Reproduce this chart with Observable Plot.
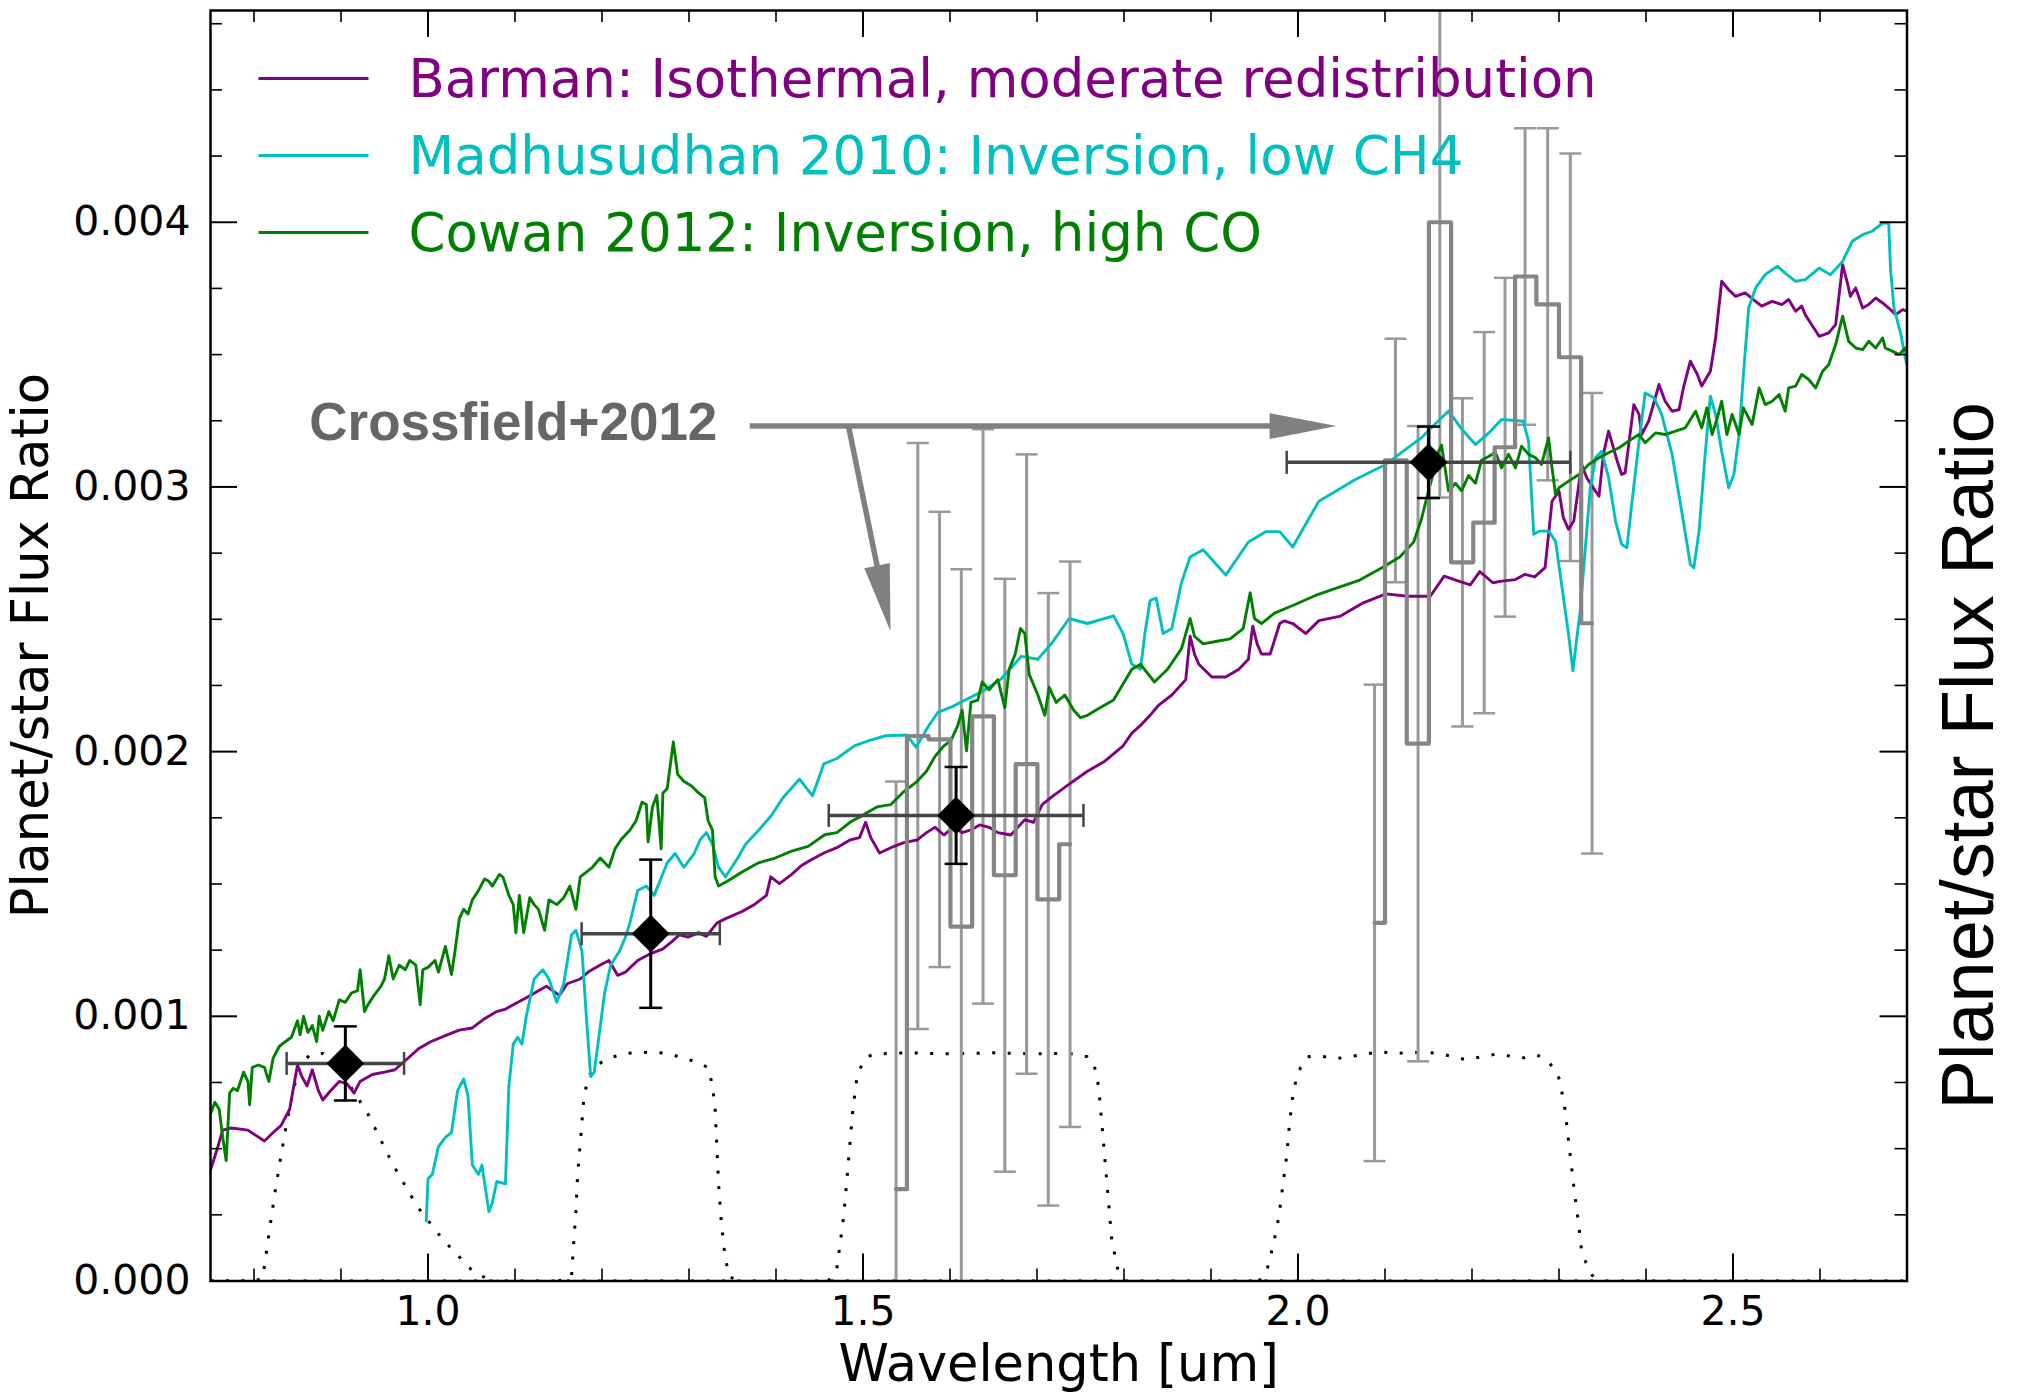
<!DOCTYPE html>
<html>
<head>
<meta charset="utf-8">
<script src="https://cdn.jsdelivr.net/npm/d3@7"></script>
<script src="https://cdn.jsdelivr.net/npm/@observablehq/plot@0.6"></script>
<style>
  html, body { margin: 0; padding: 0; background: white; }
  #chart svg { display: block; }
</style>
</head>
<body>
<div id="chart"></div>
<script>
// ---------- DATA (flux values in units of 1e-3) ----------
const barman = [[0.750,0.420],[0.757,0.491],[0.764,0.570],[0.774,0.578],[0.793,0.570],[0.812,0.529],[0.822,0.561],[0.831,0.587],[0.841,0.649],[0.850,0.816],[0.855,0.772],[0.861,0.737],[0.867,0.798],[0.874,0.719],[0.879,0.684],[0.888,0.719],[0.898,0.754],[0.907,0.745],[0.915,0.710],[0.922,0.754],[0.936,0.780],[0.950,0.789],[0.962,0.798],[0.974,0.833],[0.989,0.877],[1.003,0.904],[1.022,0.930],[1.036,0.948],[1.051,0.956],[1.065,0.991],[1.079,1.018],[1.089,1.027],[1.098,1.044],[1.113,1.070],[1.127,1.097],[1.136,1.114],[1.151,1.079],[1.160,1.123],[1.175,1.141],[1.184,1.167],[1.198,1.194],[1.208,1.211],[1.218,1.155],[1.227,1.167],[1.241,1.211],[1.256,1.237],[1.270,1.255],[1.280,1.281],[1.289,1.308],[1.299,1.299],[1.311,1.316],[1.320,1.302],[1.332,1.352],[1.342,1.369],[1.361,1.396],[1.375,1.422],[1.389,1.457],[1.394,1.527],[1.404,1.501],[1.418,1.536],[1.429,1.569],[1.439,1.589],[1.455,1.617],[1.470,1.637],[1.485,1.666],[1.496,1.675],[1.503,1.733],[1.509,1.675],[1.519,1.617],[1.532,1.637],[1.547,1.656],[1.562,1.666],[1.573,1.694],[1.583,1.714],[1.593,1.685],[1.604,1.714],[1.614,1.694],[1.624,1.704],[1.634,1.723],[1.645,1.714],[1.655,1.694],[1.670,1.685],[1.686,1.743],[1.696,1.733],[1.706,1.800],[1.717,1.829],[1.737,1.877],[1.758,1.926],[1.778,1.964],[1.799,2.022],[1.809,2.070],[1.819,2.099],[1.830,2.137],[1.840,2.176],[1.855,2.214],[1.871,2.272],[1.876,2.436],[1.881,2.369],[1.886,2.330],[1.901,2.282],[1.917,2.282],[1.932,2.311],[1.943,2.349],[1.948,2.474],[1.953,2.407],[1.958,2.369],[1.968,2.369],[1.979,2.484],[1.984,2.494],[1.994,2.484],[2.009,2.446],[2.024,2.495],[2.049,2.512],[2.075,2.562],[2.101,2.596],[2.126,2.587],[2.152,2.587],[2.168,2.663],[2.183,2.646],[2.198,2.630],[2.209,2.680],[2.224,2.638],[2.234,2.644],[2.250,2.650],[2.261,2.670],[2.272,2.660],[2.284,2.695],[2.292,2.946],[2.300,2.984],[2.305,2.884],[2.311,2.840],[2.317,2.871],[2.326,3.085],[2.332,3.034],[2.342,2.984],[2.346,2.965],[2.351,3.123],[2.357,3.211],[2.367,3.097],[2.372,3.047],[2.376,3.053],[2.386,3.311],[2.392,3.274],[2.395,3.198],[2.403,3.248],[2.415,3.387],[2.422,3.324],[2.430,3.286],[2.438,3.292],[2.443,3.374],[2.451,3.475],[2.459,3.425],[2.464,3.381],[2.474,3.437],[2.480,3.563],[2.487,3.777],[2.495,3.745],[2.503,3.720],[2.514,3.733],[2.526,3.701],[2.533,3.683],[2.545,3.701],[2.556,3.689],[2.564,3.708],[2.572,3.664],[2.579,3.683],[2.583,3.651],[2.589,3.620],[2.599,3.569],[2.610,3.582],[2.618,3.613],[2.626,3.840],[2.631,3.777],[2.635,3.720],[2.641,3.752],[2.649,3.676],[2.656,3.689],[2.664,3.714],[2.672,3.695],[2.679,3.676],[2.687,3.651],[2.695,3.670],[2.700,3.664]];

const madhusudhan = [[0.998,0.227],[1.000,0.385],[1.005,0.403],[1.012,0.508],[1.020,0.543],[1.027,0.561],[1.034,0.719],[1.041,0.763],[1.046,0.701],[1.051,0.438],[1.058,0.403],[1.062,0.438],[1.070,0.262],[1.074,0.297],[1.079,0.376],[1.089,0.367],[1.093,0.737],[1.098,0.895],[1.103,0.921],[1.108,0.895],[1.113,1.000],[1.122,1.141],[1.132,1.176],[1.139,1.141],[1.148,1.053],[1.156,1.123],[1.165,1.308],[1.170,1.325],[1.177,1.246],[1.182,1.000],[1.187,0.772],[1.191,0.789],[1.196,0.912],[1.203,1.088],[1.210,1.194],[1.220,1.246],[1.227,1.299],[1.232,1.352],[1.241,1.475],[1.251,1.492],[1.260,1.457],[1.275,1.580],[1.284,1.615],[1.294,1.563],[1.306,1.615],[1.313,1.668],[1.320,1.694],[1.327,1.650],[1.334,1.563],[1.342,1.527],[1.356,1.598],[1.365,1.650],[1.380,1.703],[1.394,1.756],[1.408,1.826],[1.427,1.896],[1.442,1.833],[1.455,1.954],[1.470,1.974],[1.490,2.022],[1.506,2.041],[1.526,2.060],[1.550,2.063],[1.561,2.017],[1.575,2.095],[1.586,2.148],[1.602,2.169],[1.621,2.201],[1.640,2.233],[1.659,2.275],[1.682,2.360],[1.701,2.349],[1.717,2.410],[1.737,2.503],[1.758,2.484],[1.788,2.513],[1.799,2.446],[1.809,2.330],[1.819,2.311],[1.824,2.446],[1.830,2.571],[1.837,2.580],[1.845,2.446],[1.855,2.465],[1.866,2.638],[1.876,2.735],[1.891,2.763],[1.917,2.667],[1.943,2.792],[1.963,2.831],[1.979,2.831],[1.994,2.773],[2.009,2.860],[2.024,2.946],[2.039,2.975],[2.065,3.026],[2.085,3.059],[2.101,3.085],[2.121,3.135],[2.142,3.186],[2.157,3.236],[2.173,3.287],[2.188,3.219],[2.204,3.160],[2.219,3.203],[2.234,3.255],[2.259,3.248],[2.265,3.173],[2.271,2.821],[2.277,2.833],[2.288,2.833],[2.296,2.795],[2.303,2.632],[2.311,2.443],[2.316,2.305],[2.321,2.443],[2.324,2.519],[2.330,2.758],[2.336,2.997],[2.342,3.110],[2.349,3.135],[2.357,3.035],[2.365,2.871],[2.372,2.783],[2.378,2.770],[2.384,2.946],[2.392,3.173],[2.399,3.355],[2.409,3.337],[2.418,3.274],[2.430,3.123],[2.441,2.909],[2.451,2.707],[2.455,2.695],[2.461,2.833],[2.468,3.123],[2.474,3.343],[2.480,3.273],[2.487,3.135],[2.495,2.997],[2.501,3.047],[2.507,3.198],[2.512,3.425],[2.518,3.676],[2.526,3.752],[2.537,3.802],[2.551,3.834],[2.560,3.808],[2.572,3.777],[2.583,3.783],[2.599,3.827],[2.612,3.802],[2.626,3.852],[2.637,3.928],[2.649,3.953],[2.660,3.966],[2.672,3.997],[2.679,3.997],[2.681,3.827],[2.685,3.676],[2.693,3.576],[2.698,3.488],[2.700,3.460]];

const cowan = [[0.750,0.631],[0.755,0.675],[0.760,0.649],[0.764,0.543],[0.768,0.455],[0.772,0.710],[0.776,0.728],[0.781,0.719],[0.788,0.789],[0.793,0.754],[0.795,0.666],[0.798,0.807],[0.805,0.816],[0.812,0.807],[0.817,0.754],[0.822,0.842],[0.829,0.886],[0.836,0.904],[0.843,0.921],[0.850,0.983],[0.853,0.930],[0.857,1.000],[0.862,0.939],[0.867,0.965],[0.872,0.904],[0.875,1.000],[0.879,0.947],[0.886,1.018],[0.891,0.983],[0.898,1.062],[0.905,1.053],[0.912,1.088],[0.919,1.097],[0.922,1.176],[0.927,1.018],[0.931,1.044],[0.938,1.079],[0.946,1.114],[0.950,1.141],[0.955,1.229],[0.960,1.141],[0.967,1.193],[0.974,1.176],[0.979,1.211],[0.986,1.193],[0.991,1.044],[0.994,1.176],[1.000,1.185],[1.008,1.211],[1.012,1.167],[1.020,1.264],[1.027,1.158],[1.031,1.246],[1.036,1.369],[1.041,1.404],[1.046,1.387],[1.051,1.440],[1.058,1.475],[1.065,1.519],[1.070,1.510],[1.074,1.492],[1.082,1.536],[1.086,1.527],[1.093,1.457],[1.098,1.422],[1.101,1.316],[1.105,1.457],[1.110,1.316],[1.117,1.448],[1.122,1.422],[1.127,1.404],[1.134,1.325],[1.139,1.440],[1.148,1.422],[1.156,1.448],[1.163,1.492],[1.170,1.404],[1.175,1.527],[1.182,1.545],[1.189,1.563],[1.198,1.598],[1.208,1.563],[1.215,1.633],[1.222,1.668],[1.232,1.703],[1.239,1.738],[1.246,1.809],[1.251,1.800],[1.253,1.659],[1.258,1.791],[1.263,1.835],[1.268,1.633],[1.270,1.844],[1.275,1.861],[1.282,2.037],[1.287,1.914],[1.294,1.888],[1.303,1.870],[1.311,1.844],[1.318,1.826],[1.322,1.738],[1.327,1.703],[1.330,1.527],[1.334,1.492],[1.344,1.510],[1.361,1.545],[1.380,1.580],[1.399,1.598],[1.418,1.624],[1.437,1.642],[1.456,1.686],[1.470,1.694],[1.485,1.733],[1.501,1.762],[1.516,1.791],[1.532,1.800],[1.547,1.849],[1.562,1.887],[1.573,1.926],[1.583,1.983],[1.593,2.022],[1.601,2.041],[1.609,2.099],[1.614,2.157],[1.619,2.003],[1.624,2.186],[1.632,2.195],[1.637,2.263],[1.645,2.234],[1.655,2.272],[1.663,2.166],[1.668,2.311],[1.675,2.369],[1.681,2.465],[1.686,2.446],[1.691,2.292],[1.696,2.253],[1.701,2.214],[1.709,2.137],[1.714,2.243],[1.722,2.186],[1.732,2.214],[1.742,2.157],[1.750,2.128],[1.758,2.137],[1.768,2.157],[1.788,2.195],[1.809,2.311],[1.819,2.330],[1.835,2.263],[1.850,2.311],[1.866,2.388],[1.876,2.503],[1.881,2.436],[1.891,2.407],[1.907,2.417],[1.922,2.426],[1.937,2.465],[1.945,2.600],[1.950,2.503],[1.958,2.484],[1.973,2.523],[1.994,2.552],[2.020,2.590],[2.045,2.619],[2.071,2.648],[2.097,2.696],[2.117,2.735],[2.133,2.792],[2.142,2.880],[2.150,2.985],[2.156,3.057],[2.161,3.130],[2.165,3.158],[2.169,3.072],[2.173,2.985],[2.181,3.014],[2.188,2.985],[2.196,3.043],[2.204,3.014],[2.211,3.101],[2.219,3.115],[2.227,3.130],[2.234,3.072],[2.242,3.123],[2.250,3.072],[2.257,3.154],[2.265,3.123],[2.273,3.110],[2.280,3.085],[2.288,3.185],[2.292,3.072],[2.296,2.972],[2.300,2.997],[2.311,3.022],[2.323,3.047],[2.334,3.085],[2.346,3.110],[2.357,3.129],[2.369,3.148],[2.380,3.173],[2.392,3.198],[2.399,3.167],[2.411,3.204],[2.422,3.198],[2.434,3.211],[2.445,3.223],[2.457,3.286],[2.464,3.223],[2.470,3.299],[2.476,3.198],[2.482,3.261],[2.487,3.324],[2.493,3.198],[2.499,3.274],[2.507,3.198],[2.512,3.299],[2.522,3.236],[2.530,3.374],[2.537,3.311],[2.545,3.324],[2.553,3.349],[2.560,3.286],[2.564,3.374],[2.572,3.381],[2.579,3.425],[2.587,3.406],[2.595,3.374],[2.603,3.437],[2.610,3.462],[2.618,3.538],[2.626,3.645],[2.633,3.550],[2.641,3.525],[2.649,3.519],[2.656,3.550],[2.664,3.525],[2.672,3.563],[2.675,3.525],[2.683,3.513],[2.691,3.500],[2.698,3.525],[2.700,3.510]];

// Filter transmission curves (scaled), dotted
const filterZ = [[0.750,0],[0.800,0],[0.810,0.010],[0.817,0.174],[0.824,0.332],[0.831,0.473],[0.838,0.605],[0.845,0.719],[0.852,0.807],[0.864,0.855],[0.879,0.860],[0.893,0.824],[0.910,0.740],[0.931,0.631],[0.960,0.438],[0.988,0.280],[1.017,0.157],[1.050,0.042],[1.068,0.008],[1.080,0]];
const filterJ = [[1.150,0],[1.165,0.016],[1.167,0.122],[1.170,0.262],[1.172,0.403],[1.176,0.561],[1.179,0.684],[1.184,0.772],[1.194,0.816],[1.208,0.842],[1.227,0.860],[1.256,0.865],[1.275,0.860],[1.303,0.833],[1.322,0.807],[1.327,0.737],[1.330,0.649],[1.332,0.508],[1.334,0.367],[1.337,0.227],[1.341,0.104],[1.346,0.016],[1.360,0]];
const filterH = [[1.460,0],[1.470,0.048],[1.478,0.250],[1.483,0.442],[1.488,0.635],[1.493,0.770],[1.501,0.837],[1.511,0.857],[1.550,0.862],[1.600,0.858],[1.650,0.862],[1.700,0.858],[1.737,0.860],[1.758,0.847],[1.765,0.828],[1.771,0.732],[1.776,0.539],[1.781,0.346],[1.786,0.154],[1.795,0.010],[1.800,0]];
const filterK = [[1.955,0],[1.964,0.036],[1.972,0.143],[1.978,0.243],[1.983,0.372],[1.987,0.472],[1.990,0.586],[1.994,0.700],[1.998,0.764],[2.003,0.807],[2.011,0.847],[2.026,0.850],[2.044,0.840],[2.078,0.857],[2.093,0.867],[2.111,0.860],[2.142,0.864],[2.162,0.860],[2.193,0.836],[2.227,0.857],[2.260,0.843],[2.275,0.854],[2.288,0.829],[2.299,0.779],[2.306,0.672],[2.310,0.558],[2.314,0.443],[2.318,0.329],[2.322,0.229],[2.326,0.115],[2.331,0.069],[2.338,0.022],[2.345,0]];
const filterBase = [[0.75,0],[2.70,0]];

// Crossfield+2012 spectra (H and K bands)
const hbandLam = [1.538,1.563,1.588,1.613,1.638,1.663,1.688,1.713,1.738];
const hbandVal = [0.347,2.059,2.046,1.339,2.133,1.533,1.953,1.442,1.650];
const hbandErr = [1.540,1.107,0.860,1.350,1.085,1.120,1.170,1.157,1.068];
const kbandLam = [2.088,2.112,2.138,2.163,2.189,2.214,2.238,2.261,2.287,2.313,2.338];
const kbandVal = [1.353,3.100,2.030,4.000,2.715,2.865,3.150,3.795,3.690,3.490,2.485];
const kbandErr = [0.900,0.460,1.200,1.040,0.620,0.720,0.640,0.560,0.665,0.770,0.870];

// Broadband photometry (black diamonds)
const photLam  = [0.905,1.256,1.607,2.150];
const photVal  = [0.822,1.312,1.759,3.093];
const photXerr = [0.0675,0.0794,0.1464,0.163];
const photYerr = [0.140,0.280,0.183,0.135];

// Legend
const seriesNames  = ["Barman: Isothermal, moderate redistribution","Madhusudhan 2010: Inversion, low CH4","Cowan 2012: Inversion, high CO"];
const seriesColors = ["#800080","#00BFBF","#008000"];

// Annotation (data coordinates)
const annoLabel = {text: "Crossfield+2012", x: 1.3326, y: 3.240};
const arrowsData = [{x1: 1.3698, y1: 3.230, x2: 2.0444, y2: 3.230},
                    {x1: 1.4833, y1: 3.230, x2: 1.5316, y2: 2.455}];

// Ticks
const xMajor = [1.0,1.5,2.0,2.5];
const xMinor = [0.8,0.9,1.1,1.2,1.3,1.4,1.6,1.7,1.8,1.9,2.1,2.2,2.3,2.4,2.6];
const yMajor = [0,0.001,0.002,0.003,0.004];
const yMinor = [0.00025,0.0005,0.00075,0.00125,0.0015,0.00175,0.00225,0.0025,0.00275,0.00325,0.0035,0.00375,0.00425,0.0045,0.00475];

// ---------- LAYOUT ----------
const W = 2024, H = 1393;
const mL = 210, mR = 117.5, mT = 10, mB = 112.5;
const plotW = W - mL - mR, plotH = H - mT - mB;
const xDomain = [0.75, 2.70], yDomain = [0, 0.0048];
const xs = d3.scaleLinear(xDomain, [mL, W - mR]);
const ys = d3.scaleLinear(yDomain, [H - mB, mT]);

const E = 1e-3;
const hband = hbandLam.map((x, i) => ({x, v: hbandVal[i], e: hbandErr[i]}));
const kband = kbandLam.map((x, i) => ({x, v: kbandVal[i], e: kbandErr[i]}));
const grayAll = hband.concat(kband);
const phot = photLam.map((x, i) => ({x, v: photVal[i], xe: photXerr[i], ye: photYerr[i]}));

const arrowGeo = arrowsData.map(a => {
  const dx = xs(a.x2) - xs(a.x1), dy = ys(a.y2 * E) - ys(a.y1 * E);
  return {...a, dist: Math.hypot(dx, dy), rot: Math.atan2(dx, -dy) * 180 / Math.PI};
});

const lineShape = {draw(ctx, l) { ctx.moveTo(0, 0); ctx.lineTo(0, -l); }};
const headLen = 67, headHalf = 13;
const headShape = {draw(ctx, l) { ctx.moveTo(0, -l); ctx.lineTo(headHalf, 0); ctx.lineTo(-headHalf, 0); ctx.closePath(); }};

const dotted = {stroke: "black", strokeWidth: 3, strokeDasharray: "3 12.5", strokeLinecap: "butt", clip: true};
const px = d => d[0], py = d => d[1] * E;
const LW = 2.9;

const legendMarks = seriesNames.flatMap((name, i) => [
  Plot.vector([0], {frameAnchor: "top-left", dx: 48, dy: 68 + 77 * i, length: 110, rotate: 90, anchor: "start",
                    shape: lineShape, stroke: seriesColors[i], strokeWidth: LW, strokeLinecap: "butt"}),
  Plot.text([name], {frameAnchor: "top-left", dx: 198, dy: 70 + 77 * i, text: d => d, textAnchor: "start",
                     lineAnchor: "middle", fill: seriesColors[i], fontSize: 53, fontFamily: "DejaVu Sans"})
]);

const chart = Plot.plot({
  width: W, height: H,
  marginLeft: mL, marginRight: mR, marginTop: mT, marginBottom: mB,
  x: {domain: xDomain, type: "linear"},
  y: {domain: yDomain, type: "linear"},
  length: {type: "identity"},
  style: {fontFamily: "DejaVu Sans", fontSize: "41px", background: "white", color: "black"},
  marks: [
    // filter curves
    Plot.line(filterBase, {x: px, y: py, ...dotted}),
    Plot.line(filterZ, {x: px, y: py, ...dotted}),
    Plot.line(filterJ, {x: px, y: py, ...dotted}),
    Plot.line(filterH, {x: px, y: py, ...dotted}),
    Plot.line(filterK, {x: px, y: py, ...dotted}),
    // Crossfield error bars
    Plot.ruleX(grayAll, {x: "x", y1: d => (d.v - d.e) * E, y2: d => (d.v + d.e) * E, stroke: "#999999", strokeWidth: 3, clip: true}),
    Plot.vector(grayAll, {x: "x", y: d => (d.v + d.e) * E, length: 22, rotate: 90, anchor: "middle", shape: lineShape, stroke: "#999999", strokeWidth: 2.5, strokeLinecap: "butt", clip: true}),
    Plot.vector(grayAll, {x: "x", y: d => (d.v - d.e) * E, length: 22, rotate: 90, anchor: "middle", shape: lineShape, stroke: "#999999", strokeWidth: 2.5, strokeLinecap: "butt", clip: true}),
    // models
    Plot.line(barman, {x: px, y: py, stroke: seriesColors[0], strokeWidth: LW, clip: true}),
    Plot.line(madhusudhan, {x: px, y: py, stroke: seriesColors[1], strokeWidth: LW, clip: true}),
    Plot.line(cowan, {x: px, y: py, stroke: seriesColors[2], strokeWidth: LW, clip: true}),
    // Crossfield step spectra
    Plot.line(hband, {x: "x", y: d => d.v * E, curve: "step", stroke: "#858585", strokeWidth: 4.2, clip: true}),
    Plot.line(kband, {x: "x", y: d => d.v * E, curve: "step", stroke: "#858585", strokeWidth: 4.2, clip: true}),
    // photometry
    Plot.ruleY(phot, {y: d => d.v * E, x1: d => d.x - d.xe, x2: d => d.x + d.xe, stroke: "#454545", strokeWidth: 3.5}),
    Plot.vector(phot, {x: d => d.x - d.xe, y: d => d.v * E, length: 23, rotate: 0, anchor: "middle", shape: lineShape, stroke: "#454545", strokeWidth: 2.5, strokeLinecap: "butt"}),
    Plot.vector(phot, {x: d => d.x + d.xe, y: d => d.v * E, length: 23, rotate: 0, anchor: "middle", shape: lineShape, stroke: "#454545", strokeWidth: 2.5, strokeLinecap: "butt"}),
    Plot.ruleX(phot, {x: "x", y1: d => (d.v - d.ye) * E, y2: d => (d.v + d.ye) * E, stroke: "black", strokeWidth: 3}),
    Plot.vector(phot, {x: "x", y: d => (d.v + d.ye) * E, length: 23, rotate: 90, anchor: "middle", shape: lineShape, stroke: "black", strokeWidth: 2.5, strokeLinecap: "butt"}),
    Plot.vector(phot, {x: "x", y: d => (d.v - d.ye) * E, length: 23, rotate: 90, anchor: "middle", shape: lineShape, stroke: "black", strokeWidth: 2.5, strokeLinecap: "butt"}),
    Plot.dot(phot, {x: "x", y: d => d.v * E, symbol: "diamond2", r: 17, fill: "black", stroke: "none"}),
    // annotation arrows + label
    Plot.vector(arrowGeo, {x: "x1", y: d => d.y1 * E, length: d => d.dist - headLen + 8, rotate: "rot", anchor: "start", shape: lineShape, stroke: "#808080", strokeWidth: 5.5, strokeLinecap: "butt"}),
    Plot.vector(arrowGeo, {x: "x2", y: d => d.y2 * E, length: headLen, rotate: "rot", anchor: "end", shape: headShape, fill: "#808080", stroke: "none"}),
    Plot.text([annoLabel], {x: "x", y: d => d.y * E, text: "text", textAnchor: "end", lineAnchor: "middle", fontFamily: "Liberation Sans", fontWeight: "bold", fontSize: 53, fill: "#666666"}),
    // legend
    ...legendMarks,
    // inward ticks
    Plot.tickX(xMajor, {x: d => d, insetTop: plotH - 27, strokeWidth: 2}),
    Plot.tickX(xMajor, {x: d => d, insetBottom: plotH - 27, strokeWidth: 2}),
    Plot.tickX(xMinor, {x: d => d, insetTop: plotH - 12, strokeWidth: 1.6}),
    Plot.tickX(xMinor, {x: d => d, insetBottom: plotH - 12, strokeWidth: 1.6}),
    Plot.tickY(yMajor, {y: d => d, insetRight: plotW - 27, strokeWidth: 2}),
    Plot.tickY(yMajor, {y: d => d, insetLeft: plotW - 27, strokeWidth: 2}),
    Plot.tickY(yMinor, {y: d => d, insetRight: plotW - 12, strokeWidth: 1.6}),
    Plot.tickY(yMinor, {y: d => d, insetLeft: plotW - 12, strokeWidth: 1.6}),
    // tick labels
    Plot.axisX({anchor: "bottom", ticks: xMajor, tickSize: 0, tickPadding: 15, tickFormat: d3.format(".1f"), label: null, fontSize: 41, fontFamily: "DejaVu Sans"}),
    Plot.axisY({anchor: "left", ticks: yMajor, tickSize: 0, tickPadding: 20, tickFormat: d3.format(".3f"), label: null, fontSize: 41, fontFamily: "DejaVu Sans"}),
    // axis titles
    Plot.text(["Wavelength [um]"], {frameAnchor: "bottom", dy: 99.5, text: d => d, lineAnchor: "bottom", textAnchor: "middle", fontSize: 51, fontFamily: "DejaVu Sans", fill: "black"}),
    Plot.text(["Planet/star Flux Ratio"], {frameAnchor: "left", dx: -179, rotate: -90, text: d => d, lineAnchor: "middle", textAnchor: "middle", fontSize: 51, fontFamily: "DejaVu Sans", fill: "black"}),
    Plot.text(["Planet/star Flux Ratio"], {frameAnchor: "right", dx: 62.5, dy: 110, rotate: -90, text: d => d, lineAnchor: "middle", textAnchor: "middle", fontSize: 74, fontFamily: "Liberation Sans", fill: "black"}),
    Plot.frame({stroke: "black", strokeWidth: 2.5})
  ]
});
document.getElementById("chart").appendChild(chart);
</script>
</body>
</html>
